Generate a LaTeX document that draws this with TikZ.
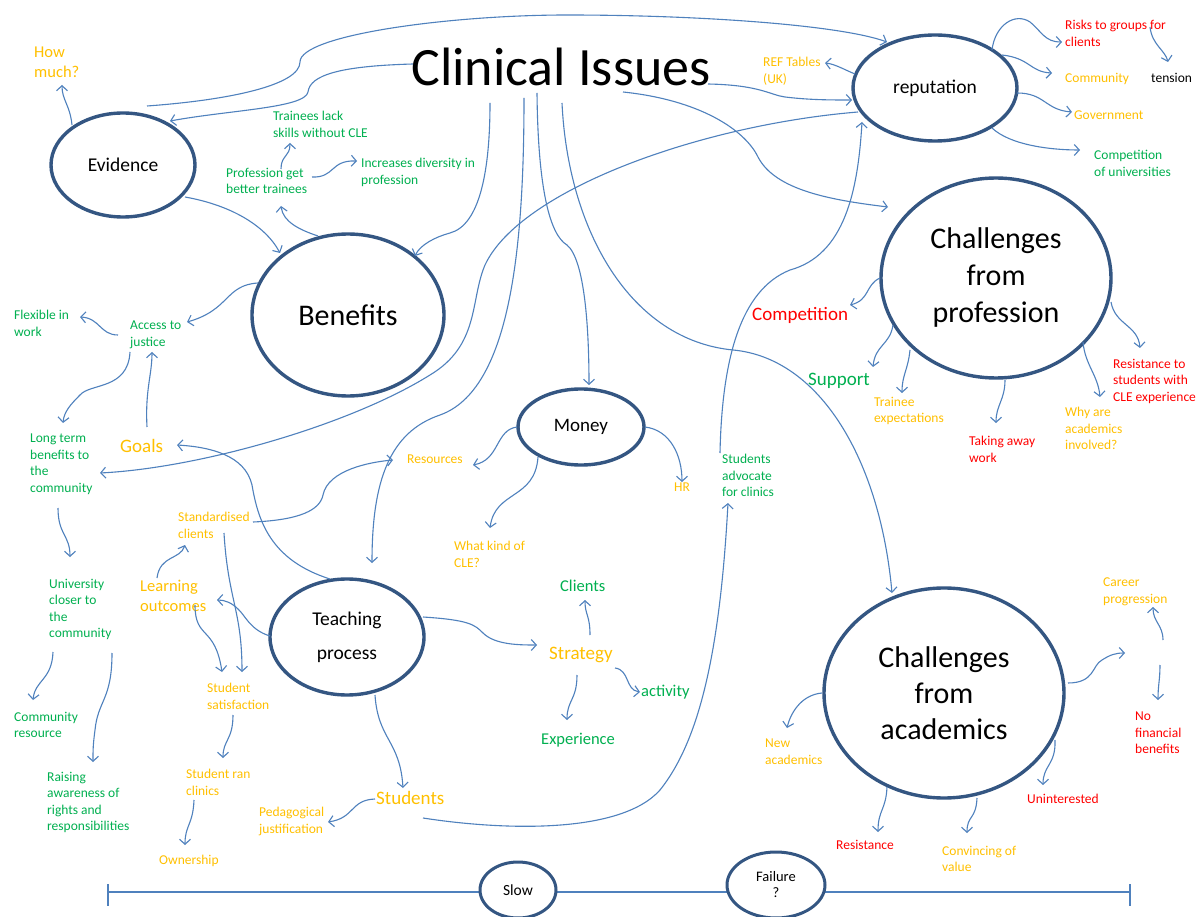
\documentclass[tikz,border=0pt]{standalone}
\usepackage{fontspec}
\setmainfont{Carlito}
\usetikzlibrary{shapes.geometric,arrows.meta,calc}
\definecolor{lblue}{RGB}{79,129,189}
\definecolor{eblue}{RGB}{52,86,130}
\definecolor{gr}{RGB}{0,176,80}
\definecolor{og}{RGB}{255,192,0}
\definecolor{rd}{RGB}{255,0,0}
\begin{document}
\begin{tikzpicture}[x=1pt,y=-1pt,
  conn/.style={draw=lblue, line width=1.1pt, -{Straight Barb[length=5pt,width=11pt]}},
  bub/.style={ellipse, draw=eblue, line width=3.4pt, inner sep=0pt, align=center, text=black},
  lbl/.style={anchor=north west, inner sep=0pt, align=left},
  sm/.style={lbl, font=\fontsize{13.5}{16.5}\selectfont},
  md/.style={lbl, font=\fontsize{16.5}{20}\selectfont},
  lg/.style={lbl, font=\fontsize{19}{23}\selectfont}]
\fill[white] (0,0) rectangle (1203,917);
\useasboundingbox (0,0) rectangle (1203,917);

% timeline (drawn first, the bubbles on it are filled white)
\coordinate (tl0) at (108,892);
\coordinate (tl1) at (1130,892);
\draw[draw=lblue, line width=1.1pt] (tl0) -- (tl1);
\draw[draw=lblue, line width=1.1pt] ($(tl0)+(0,-8)$) -- ($(tl0)+(0,14)$);
\draw[draw=lblue, line width=1.1pt] ($(tl1)+(0,-8)$) -- ($(tl1)+(0,14)$);

% title
\node[font=\fontsize{54}{60}\selectfont, inner sep=0pt, anchor=base] (ci) at (561,86) {Clinical Issues};

% ellipses
\node[bub, minimum width=144pt, minimum height=104pt, font=\fontsize{19.5}{24}\selectfont] (evid) at (123,165) {Evidence};
\node[bub, minimum width=192pt, minimum height=162pt, font=\fontsize{30}{36}\selectfont] (benef) at (348,315) {Benefits};
\node[bub, minimum width=164pt, minimum height=106pt, font=\fontsize{19.5}{24}\selectfont] (rep) at (935,88) {reputation};
\node[bub, minimum width=230pt, minimum height=200pt, font=\fontsize{30}{37}\selectfont] (cprof) at (996,278) {Challenges\\from\\profession};
\node[bub, minimum width=126pt, minimum height=76pt, font=\fontsize{19}{24}\selectfont] (money) at (581,427) {Money};
\node[bub, minimum width=154pt, minimum height=116pt, font=\fontsize{19.5}{34}\selectfont] (teach) at (347,637) {Teaching\\process};
\node[bub, minimum width=240pt, minimum height=210pt, font=\fontsize{30}{36}\selectfont] (cacad) at (944,693) {Challenges\\from\\academics};
\node[bub, fill=white, minimum width=76pt, minimum height=56pt, line width=3pt, font=\fontsize{15.5}{19}\selectfont] (slow) at (518,890) {Slow};
\node[bub, fill=white, minimum width=98pt, minimum height=66pt, line width=3pt, font=\fontsize{14.5}{16}\selectfont] (fail) at (776,885) {Failure\\?};

% labels
\node[md, text=og] (howmuch) at (34,47) {How\\much?};
\node[sm, text=gr] (tlack) at (273,111) {Trainees lack\\skills without CLE};
\node[sm, text=gr] (pgbt) at (226,168) {Profession get\\better trainees};
\node[sm, text=gr] (incdiv) at (361,158) {Increases diversity in\\profession};
\node[sm, text=og] (ref) at (763,57) {REF Tables\\(UK)};
\node[sm, text=rd] (risks) at (1065,20) {Risks to groups for\\clients};
\node[sm, text=og] (comm) at (1065,73) {Community};
\node[sm, text=black] (tension) at (1151,73) {tension};
\node[sm, text=og] (gov) at (1074,111) {Government};
\node[sm, text=gr] (compuni) at (1094,150) {Competition\\of universities};
\node[lg, text=rd] (competition) at (752,307) {Competition};
\node[lg, text=gr] (support) at (808,373) {Support};
\node[sm, text=og] (trainexp) at (874,397) {Trainee\\expectations};
\node[sm, text=rd] (taking) at (969,436) {Taking away\\work};
\node[sm, text=og] (whyare) at (1065,407) {Why are\\academics\\involved?};
\node[sm, text=rd] (resist2) at (1113,359) {Resistance to\\students with\\CLE experience};
\node[sm, text=gr] (flex) at (14,310) {Flexible in\\work};
\node[sm, text=gr] (access) at (130,321) {Access to\\justice};
\node[sm, text=gr] (longterm) at (30,434) {Long term\\benefits to\\the\\community};
\node[lg, text=og] (goals) at (120,439) {Goals};
\node[sm, text=og] (resources) at (407,455) {Resources};
\node[sm, text=og] (hr) at (674,483) {HR};
\node[sm, text=og] (whatkind) at (454,541) {What kind of\\CLE?};
\node[sm, text=gr] (advocate) at (722,454) {Students\\advocate\\for clinics};
\node[sm, text=og] (standard) at (178,512) {Standardised\\clients};
\node[md, text=og] (learning) at (140,580) {Learning\\outcomes};
\node[sm, text=gr] (univ) at (49,579) {University\\closer to\\the\\community};
\node[sm, text=gr] (commres) at (14,712) {Community\\resource};
\node[sm, text=gr] (raising) at (47,772) {Raising\\awareness of\\rights and\\responsibilities};
\node[sm, text=og] (studsat) at (207,683) {Student\\satisfaction};
\node[sm, text=og] (studran) at (186,769) {Student ran\\clinics};
\node[sm, text=og] (ownership) at (159,855) {Ownership};
\node[sm, text=og] (pedag) at (259,807) {Pedagogical\\justification};
\node[lg, text=og] (students) at (376,791) {Students};
\node[md, text=gr] (clients) at (560,580) {Clients};
\node[lg, text=og] (strategy) at (549,647) {Strategy};
\node[md, text=gr] (activity) at (641,685) {activity};
\node[md, text=gr] (experience) at (541,733) {Experience};
\node[sm, text=og] (career) at (1103,578) {Career\\progression};
\node[sm, text=rd] (nofin) at (1135,712) {No\\financial\\benefits};
\node[sm, text=og] (newacad) at (765,739) {New\\academics};
\node[sm, text=rd] (resistance) at (836,840) {Resistance};
\node[sm, text=og] (convincing) at (942,846) {Convincing of\\value};
\node[sm, text=rd] (uninterested) at (1027,794) {Uninterested};

% connectors
\draw[conn] ($(evid)+(24,-59)$) .. controls (230,100) and (300,85) .. (300,62) .. controls (300,35) and (450,15) .. (567,15) .. controls (700,15) and (840,25) .. ($(rep)+(-48,-46)$);
\draw[conn] ($(ci.base)+(-148,-22)$) .. controls (340,66) and (310,75) .. (308,92) .. controls (305,108) and (230,110) .. ($(evid)+(47,-44)$);
\draw[conn] ($(ci.base)+(-71,17)$) .. controls (490,170) and (480,225) .. (450,233) .. controls (435,237) and (420,245) .. ($(benef)+(67,-59)$);
\draw[conn] ($(ci.base)+(-37,12)$) .. controls (524,250) and (510,390) .. (440,415) .. controls (390,432) and (372,480) .. ($(teach)+(25,-74)$);
\draw[conn] ($(ci.base)+(-24,7)$) .. controls (538,190) and (550,235) .. (567,245) .. controls (585,260) and (589,330) .. ($(money)+(8,-42)$);
\draw[conn] ($(ci.base)+(1,17)$) .. controls (568,230) and (630,340) .. (733,350) .. controls (820,358) and (880,460) .. ($(cacad)+(-52,-100)$);
\draw[conn] ($(ci.base)+(62,6)$) .. controls (700,100) and (745,130) .. (758,157) .. controls (775,190) and (830,200) .. ($(cprof)+(-108,-71)$);
\draw[conn] ($(ci.base)+(147,-2)$) .. controls (760,85) and (770,95) .. (785,97) .. controls (810,100) and (830,100) .. ($(rep)+(-83,12)$);
\draw[conn] ($(rep)+(-77,24)$) .. controls (700,125) and (520,190) .. (485,265) .. controls (470,300) and (480,345) .. (430,375) .. controls (350,425) and (200,468) .. ($(longterm.north west)+(70,39)$);
\draw[conn] ($(advocate.north west)+(-2,-1)$) .. controls (722,360) and (740,290) .. (790,270) .. controls (845,255) and (858,190) .. ($(rep)+(-73,34)$);
\draw[conn] ($(students.north west)+(47,27)$) .. controls (500,830) and (620,835) .. (660,790) .. controls (700,740) and (720,650) .. ($(advocate.north west)+(6,49)$);
\draw[conn] ($(evid)+(62,32)$) .. controls (230,205) and (265,225) .. ($(benef)+(-68,-62)$);
\draw[conn] ($(benef)+(-30,-79)$) .. controls (300,230) and (283,222) .. ($(pgbt.north west)+(55,38)$);
\draw[conn] ($(pgbt.north west)+(55,1)$) .. controls (281,155) and (290,157) .. ($(tlack.north west)+(17,32)$);
\draw[conn] ($(pgbt.north west)+(86,9)$) .. controls (335,178) and (330,160) .. ($(incdiv.north west)+(-4,3)$);
\draw[conn] ($(evid)+(-51,-40)$) .. controls (70,105) and (62,100) .. ($(howmuch.north west)+(28,38)$);
\draw[conn] ($(rep)+(-80,-14)$) .. controls (845,70) and (835,64) .. ($(ref.north west)+(62,6)$);
\draw[conn] ($(rep)+(57,-38)$) .. controls (995,25) and (1015,12) .. (1030,22) .. controls (1042,32) and (1045,42) .. ($(risks.north west)+(-3,22)$);
\draw[conn] ($(risks.north west)+(85,7)$) .. controls (1152,45) and (1165,50) .. ($(tension.north west)+(17,-11)$);
\draw[conn] ($(rep)+(67,-33)$) .. controls (1030,58) and (1030,72) .. ($(comm.north west)+(-13,0)$);
\draw[conn] ($(rep)+(82,5)$) .. controls (1045,93) and (1045,110) .. ($(gov.north west)+(-2,1)$);
\draw[conn] ($(rep)+(57,40)$) .. controls (1010,145) and (1050,150) .. ($(compuni.north west)+(-14,0)$);
\draw[conn] ($(cprof)+(-116,0)$) .. controls (865,285) and (870,300) .. ($(competition.north west)+(98,-2)$);
\draw[conn] ($(cprof)+(-103,47)$) .. controls (890,345) and (875,345) .. ($(support.north west)+(65,-6)$);
\draw[conn] ($(cprof)+(-86,72)$) .. controls (908,370) and (902,375) .. ($(trainexp.north west)+(28,-4)$);
\draw[conn] ($(cprof)+(9,102)$) .. controls (1005,400) and (996,405) .. ($(taking.north west)+(27,-13)$);
\draw[conn] ($(cprof)+(87,64)$) .. controls (1085,365) and (1098,375) .. ($(whyare.north west)+(35,-10)$);
\draw[conn] ($(cprof)+(115,24)$) .. controls (1115,325) and (1138,325) .. ($(resist2.north west)+(27,-11)$);
\draw[conn] ($(benef)+(-90,-32)$) .. controls (225,285) and (230,310) .. ($(access.north west)+(57,1)$);
\draw[conn] ($(access.north west)+(-12,14)$) .. controls (100,335) and (100,318) .. ($(flex.north west)+(66,7)$);
\draw[conn] ($(access.north west)+(0,31)$) .. controls (128,390) and (90,383) .. (80,395) .. controls (70,405) and (64,412) .. ($(longterm.north west)+(33,-11)$);
\draw[conn] ($(goals.north west)+(27,-12)$) .. controls (145,390) and (152,375) .. ($(access.north west)+(22,31)$);
\draw[conn] ($(teach)+(-17,-58)$) .. controls (270,560) and (258,520) .. (252,485) .. controls (245,455) and (210,447) .. ($(goals.north west)+(57,6)$);
\draw[conn] ($(standard.north west)+(75,10)$) .. controls (300,520) and (320,510) .. (323,495) .. controls (328,470) and (370,462) .. ($(resources.north west)+(-14,5)$);
\draw[conn] ($(learning.north west)+(17,-2)$) .. controls (160,555) and (180,560) .. ($(standard.north west)+(7,33)$);
\draw[conn] ($(teach)+(-77,-1)$) .. controls (250,630) and (245,615) .. (238,609) .. controls (232,603) and (225,600) .. ($(learning.north west)+(77,20)$);
\draw[conn] ($(standard.north west)+(46,21)$) .. controls (228,600) and (242,610) .. ($(studsat.north west)+(35,-11)$);
\draw[conn] ($(learning.north west)+(55,25)$) .. controls (195,640) and (215,625) .. ($(studsat.north west)+(15,-11)$);
\draw[conn] ($(studsat.north west)+(26,32)$) .. controls (233,740) and (223,740) .. ($(studran.north west)+(37,-11)$);
\draw[conn] ($(studran.north west)+(8,31)$) .. controls (193,825) and (185,825) .. ($(ownership.north west)+(26,-10)$);
\draw[conn] ($(teach)+(28,58)$) .. controls (378,740) and (400,740) .. ($(students.north west)+(27,-3)$);
\draw[conn] ($(students.north west)+(-1,8)$) .. controls (350,800) and (355,818) .. ($(pedag.north west)+(69,15)$);
\draw[conn] ($(teach)+(76,-20)$) .. controls (470,620) and (475,625) .. (483,633) .. controls (495,645) and (520,645) .. ($(strategy.north west)+(-12,-2)$);
\draw[conn] ($(strategy.north west)+(41,-12)$) .. controls (590,615) and (585,615) .. ($(clients.north west)+(25,20)$);
\draw[conn] ($(strategy.north west)+(66,21)$) .. controls (630,670) and (625,690) .. ($(activity.north west)+(-1,7)$);
\draw[conn] ($(strategy.north west)+(28,28)$) .. controls (577,700) and (567,700) .. ($(experience.north west)+(26,-13)$);
\draw[conn] ($(money)+(-64,0)$) .. controls (495,430) and (500,460) .. ($(resources.north west)+(66,10)$);
\draw[conn] ($(money)+(-43,30)$) .. controls (535,500) and (495,490) .. ($(whatkind.north west)+(36,-13)$);
\draw[conn] ($(money)+(64,0)$) .. controls (670,430) and (682,455) .. ($(hr.north west)+(8,-1)$);
\draw[conn] ($(cacad)+(-122,0)$) .. controls (800,695) and (790,715) .. ($(newacad.north west)+(22,-11)$);
\draw[conn] ($(cacad)+(-57,94)$) .. controls (886,810) and (878,810) .. ($(resistance.north west)+(42,-8)$);
\draw[conn] ($(cacad)+(33,105)$) .. controls (976,820) and (967,815) .. ($(convincing.north west)+(25,-13)$);
\draw[conn] ($(cacad)+(111,47)$) .. controls (1056,765) and (1043,765) .. ($(uninterested.north west)+(16,-9)$);
\coordinate (gap) at (1125,653);
\draw[conn] ($(cacad)+(124,-10)$) .. controls (1095,683) and (1092,665) .. (1102,660) .. controls (1110,655) and (1115,653) .. (gap);
\coordinate (cpfrom) at (1163,640);
\draw[conn] (cpfrom) .. controls (1163,625) and (1153,622) .. ($(career.north west)+(50,29)$);
\coordinate (nffrom) at (1160,665);
\draw[conn] (nffrom) .. controls (1160,680) and (1158,685) .. ($(nofin.north west)+(23,-12)$);
\draw[conn] ($(longterm.north west)+(28,74)$) .. controls (58,535) and (70,535) .. ($(univ.north west)+(21,-22)$);
\draw[conn] ($(univ.north west)+(4,73)$) .. controls (52,680) and (35,680) .. ($(commres.north west)+(19,-12)$);
\draw[conn] ($(univ.north west)+(63,74)$) .. controls (112,700) and (98,700) .. (95,730) .. controls (93,745) and (93,750) .. ($(raising.north west)+(46,-10)$);
\end{tikzpicture}
\end{document}
